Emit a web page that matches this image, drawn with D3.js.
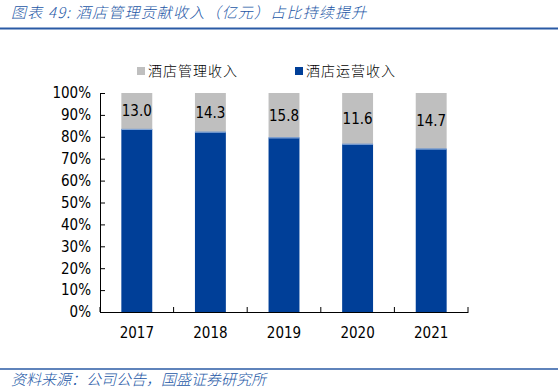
<!DOCTYPE html>
<html>
<head>
<meta charset="utf-8">
<script src="https://cdn.jsdelivr.net/npm/d3@7"></script>
<style>
  body { margin: 0; background: #fff; }
  svg { display: block; }
</style>
</head>
<body>
<div id="chart"></div>
<script>
// 数据
const years = ['2017', '2018', '2019', '2020', '2021'];
const mgmtValues = [13.0, 14.3, 15.8, 11.6, 14.7];        // 酒店管理收入（亿元）
const operShare = [0.836, 0.823, 0.797, 0.768, 0.746];     // 酒店运营收入占比
const yTicks = [0, 0.1, 0.2, 0.3, 0.4, 0.5, 0.6, 0.7, 0.8, 0.9, 1.0];
const seriesNames = ['酒店管理收入', '酒店运营收入'];

const W = 558, H = 388;
const margin = { top: 93, right: 90, bottom: 76, left: 100 };
const innerW = W - margin.left - margin.right;
const innerH = H - margin.top - margin.bottom;

const colors = { mgmt: '#BFBFBF', oper: '#003F98', title: '#2457A6' };
const numFont = '"DejaVu Sans Condensed", "DejaVu Sans", sans-serif';
const cjkFont = '"Noto Sans CJK SC", sans-serif';

const svg = d3.select('#chart').append('svg')
    .attr('width', W)
    .attr('height', H);

// 标题
svg.append('text')
    .attr('x', 11)
    .attr('y', 18)
    .attr('fill', colors.title)
    .attr('font-family', cjkFont)
    .attr('font-size', 15)
    .attr('font-weight', 300)
    .attr('font-style', 'italic')
    .attr('letter-spacing', 1.2)
    .text('图表 49:  酒店管理贡献收入（亿元）占比持续提升');

svg.append('line')
    .attr('x1', 0).attr('x2', W)
    .attr('y1', 28.5).attr('y2', 28.5)
    .attr('stroke', '#2A5AA5')
    .attr('stroke-width', 2);

// 底部来源
svg.append('line')
    .attr('x1', 0).attr('x2', W)
    .attr('y1', 369).attr('y2', 369)
    .attr('stroke', '#2A5AA5')
    .attr('stroke-width', 1.5);

svg.append('text')
    .attr('x', 11)
    .attr('y', 385)
    .attr('fill', colors.title)
    .attr('font-family', cjkFont)
    .attr('font-size', 15)
    .attr('font-weight', 300)
    .attr('font-style', 'italic')
    .text('资料来源：公司公告，国盛证券研究所');

// 比例尺
const x = d3.scaleBand()
    .domain(years)
    .range([0, innerW])
    .paddingInner(0.58)
    .paddingOuter(0.29);

const y = d3.scaleLinear()
    .domain([0, 1])
    .range([innerH, 0]);

const g = svg.append('g')
    .attr('transform', `translate(${margin.left},${margin.top})`);

// 柱子
const bars = g.selectAll('.bar')
    .data(years.map((d, i) => ({ year: d, oper: operShare[i], mgmt: mgmtValues[i] })))
    .enter().append('g')
    .attr('class', 'bar');

bars.append('rect')
    .attr('x', d => x(d.year))
    .attr('width', x.bandwidth())
    .attr('y', y(1))
    .attr('height', d => y(d.oper) - y(1))
    .attr('fill', colors.mgmt);

bars.append('rect')
    .attr('x', d => x(d.year))
    .attr('width', x.bandwidth())
    .attr('y', d => y(d.oper))
    .attr('height', d => innerH - y(d.oper))
    .attr('fill', colors.oper);

bars.append('line')
    .attr('x1', d => x(d.year))
    .attr('x2', d => x(d.year) + x.bandwidth())
    .attr('y1', d => y(d.oper) + 0.5)
    .attr('y2', d => y(d.oper) + 0.5)
    .attr('stroke', '#8FB0DD')
    .attr('stroke-width', 1);

bars.append('text')
    .attr('x', d => x(d.year) + x.bandwidth() / 2)
    .attr('y', d => (y(1) + y(d.oper)) / 2)
    .attr('dy', '0.36em')
    .attr('text-anchor', 'middle')
    .attr('font-family', numFont)
    .attr('font-size', 15)
    .attr('fill', '#000')
    .text(d => d.mgmt.toFixed(1));

// Y 轴
const yAxis = d3.axisLeft(y)
    .tickValues(yTicks)
    .tickFormat(d3.format('.0%'))
    .tickSize(-5)
    .tickPadding(9);

const gy = g.append('g').call(yAxis);
gy.select('.domain').attr('stroke', '#000');
gy.selectAll('.tick line').attr('stroke', '#000');
gy.selectAll('.tick text')
    .attr('font-family', numFont)
    .attr('font-size', 15)
    .attr('fill', '#000');

// X 轴
const xAxis = d3.axisBottom(x)
    .tickSize(0)
    .tickPadding(15);

const gx = g.append('g')
    .attr('transform', `translate(0,${innerH})`)
    .call(xAxis);
gx.select('.domain').attr('stroke', '#000');
gx.selectAll('.tick text')
    .attr('font-family', numFont)
    .attr('font-size', 15)
    .attr('fill', '#000');

// 类别分隔刻度
const step = x.step();
const sepTicks = d3.range(years.length + 1).map(i => i * step);
gx.selectAll('.sep')
    .data(sepTicks)
    .enter().append('line')
    .attr('class', 'sep')
    .attr('x1', d => d).attr('x2', d => d)
    .attr('y1', 0).attr('y2', -5)
    .attr('stroke', '#000');

// 图例
const legendItems = [
    { name: seriesNames[0], color: colors.mgmt, x: 137 },
    { name: seriesNames[1], color: colors.oper, x: 295 }
];
const legend = svg.append('g').attr('class', 'legend');
const li = legend.selectAll('g')
    .data(legendItems)
    .enter().append('g')
    .attr('transform', d => `translate(${d.x},67)`);

li.append('rect')
    .attr('width', 8)
    .attr('height', 8)
    .attr('fill', d => d.color);

li.append('text')
    .attr('x', 11)
    .attr('y', 4)
    .attr('dy', '0.36em')
    .attr('font-family', cjkFont)
    .attr('font-size', 14)
    .attr('font-weight', 300)
    .attr('letter-spacing', 1)
    .attr('fill', '#000')
    .text(d => d.name);
</script>
</body>
</html>
